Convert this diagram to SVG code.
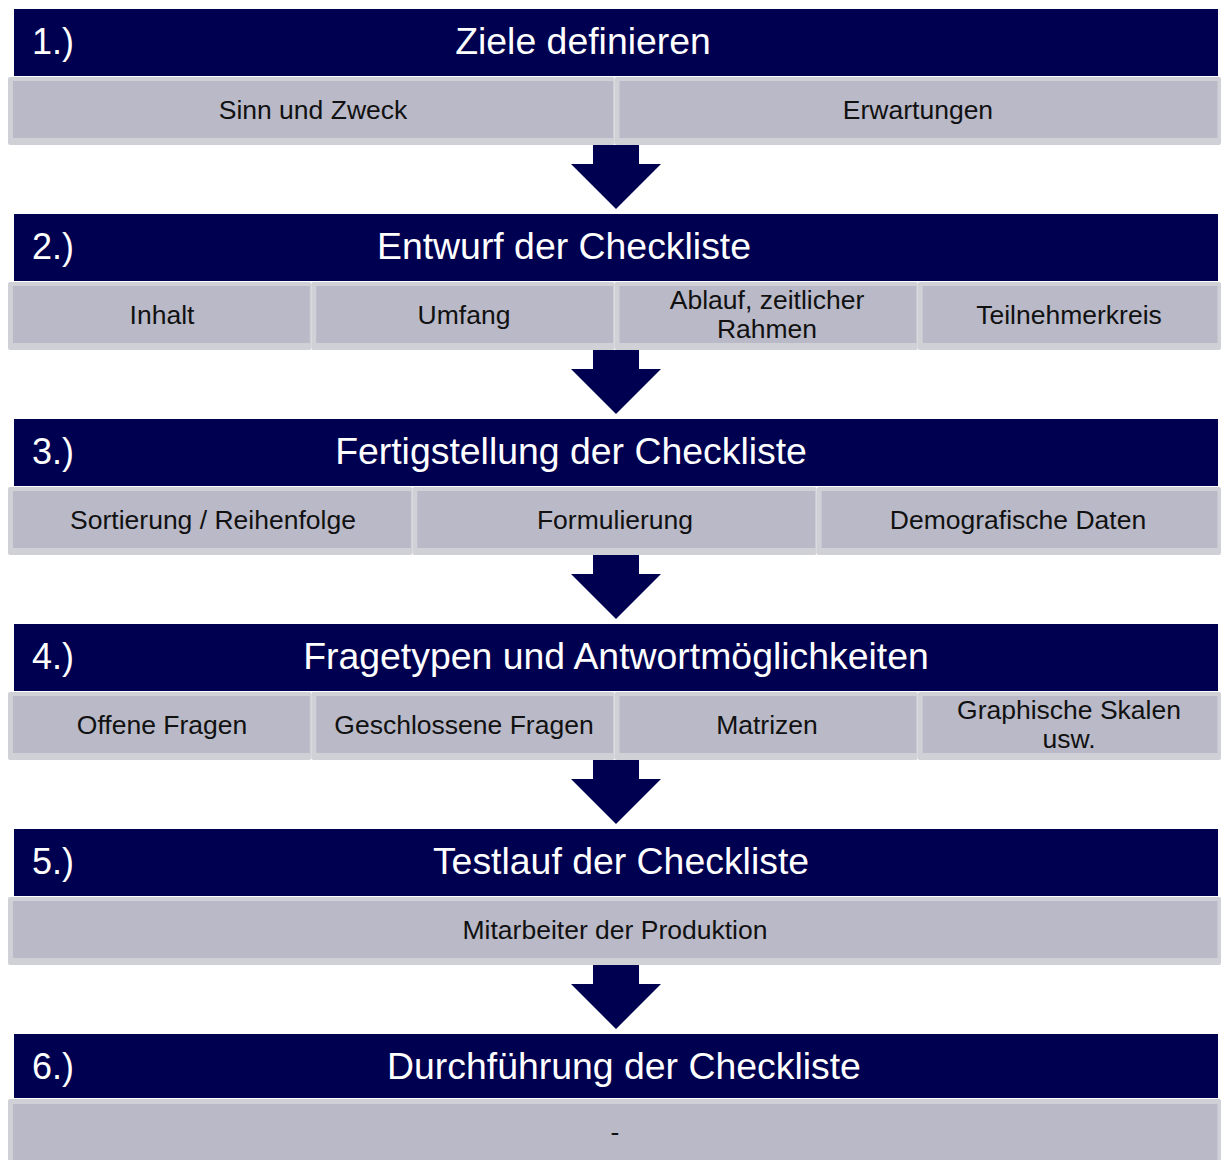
<svg xmlns="http://www.w3.org/2000/svg" width="1221" height="1160" viewBox="0 0 1221 1160">
  <style>
    .hdr { fill: #000050; }
    .num { font-family: "Liberation Sans", Arial, sans-serif; font-size: 36px; fill: #ffffff; }
    .title { font-family: "Liberation Sans", Arial, sans-serif; font-size: 37.4px; fill: #ffffff; text-anchor: middle; }
    .edge { fill: #d0d0d7; }
    .cell { fill: #b9b9c8; }
    .lbl { font-family: "Liberation Sans", Arial, sans-serif; font-size: 26.5px; fill: #111111; text-anchor: middle; }
    .arrow { fill: #000050; }
  </style>

  <!-- Step arrows between the stages -->
  <g id="connectors">
    <polygon class="arrow" points="593,145 639,145 639,164 661,164 616,209 571,164 593,164"/>
    <polygon class="arrow" points="593,350 639,350 639,369 661,369 616,414 571,369 593,369"/>
    <polygon class="arrow" points="593,555 639,555 639,574 661,574 616,619 571,574 593,574"/>
    <polygon class="arrow" points="593,760 639,760 639,779 661,779 616,824 571,779 593,779"/>
    <polygon class="arrow" points="593,965 639,965 639,984 661,984 616,1029 571,984 593,984"/>
  </g>

  <!-- Stage 1 -->
  <g id="step1">
    <rect class="hdr" x="14" y="9" width="1204" height="67"/>
    <text class="num" x="32" y="54">1.)</text>
    <text class="title" x="583" y="54">Ziele definieren</text>
  </g>
  <g id="step1-sinn">
    <rect class="edge" x="8" y="77" width="606.5" height="68" rx="2"/>
    <rect class="cell" x="13" y="81" width="600" height="57"/>
    <text class="lbl" x="313" y="119">Sinn und Zweck</text>
  </g>
  <g id="step1-erwartungen">
    <rect class="edge" x="614.5" y="77" width="606.5" height="68" rx="2"/>
    <rect class="cell" x="619.5" y="81" width="598" height="57"/>
    <text class="lbl" x="918" y="119">Erwartungen</text>
  </g>

  <!-- Stage 2 -->
  <g id="step2">
    <rect class="hdr" x="14" y="214" width="1204" height="67"/>
    <text class="num" x="32" y="259">2.)</text>
    <text class="title" x="564" y="259">Entwurf der Checkliste</text>
  </g>
  <g id="step2-inhalt">
    <rect class="edge" x="8" y="282" width="303.25" height="68" rx="2"/>
    <rect class="cell" x="13" y="286" width="296.75" height="57"/>
    <text class="lbl" x="162" y="324">Inhalt</text>
  </g>
  <g id="step2-umfang">
    <rect class="edge" x="311.25" y="282" width="303.25" height="68" rx="2"/>
    <rect class="cell" x="316.25" y="286" width="296.75" height="57"/>
    <text class="lbl" x="464" y="324">Umfang</text>
  </g>
  <g id="step2-ablauf">
    <rect class="edge" x="614.5" y="282" width="303.25" height="68" rx="2"/>
    <rect class="cell" x="619.5" y="286" width="296.75" height="57"/>
    <text class="lbl" x="767" y="309">Ablauf, zeitlicher<tspan x="767" dy="29">Rahmen</tspan></text>
  </g>
  <g id="step2-teilnehmer">
    <rect class="edge" x="917.75" y="282" width="303.25" height="68" rx="2"/>
    <rect class="cell" x="922.75" y="286" width="294.75" height="57"/>
    <text class="lbl" x="1069" y="324">Teilnehmerkreis</text>
  </g>

  <!-- Stage 3 -->
  <g id="step3">
    <rect class="hdr" x="14" y="419" width="1204" height="67"/>
    <text class="num" x="32" y="464">3.)</text>
    <text class="title" x="571" y="464">Fertigstellung der Checkliste</text>
  </g>
  <g id="step3-sortierung">
    <rect class="edge" x="8" y="487" width="404.33" height="68" rx="2"/>
    <rect class="cell" x="13" y="491" width="397.83" height="57"/>
    <text class="lbl" x="213" y="529">Sortierung / Reihenfolge</text>
  </g>
  <g id="step3-formulierung">
    <rect class="edge" x="412.33" y="487" width="404.33" height="68" rx="2"/>
    <rect class="cell" x="417.33" y="491" width="397.83" height="57"/>
    <text class="lbl" x="615" y="529">Formulierung</text>
  </g>
  <g id="step3-demografie">
    <rect class="edge" x="816.67" y="487" width="404.33" height="68" rx="2"/>
    <rect class="cell" x="821.67" y="491" width="395.83" height="57"/>
    <text class="lbl" x="1018" y="529">Demografische Daten</text>
  </g>

  <!-- Stage 4 -->
  <g id="step4">
    <rect class="hdr" x="14" y="624" width="1204" height="67"/>
    <text class="num" x="32" y="669">4.)</text>
    <text class="title" x="616" y="669">Fragetypen und Antwortmöglichkeiten</text>
  </g>
  <g id="step4-offen">
    <rect class="edge" x="8" y="692" width="303.25" height="68" rx="2"/>
    <rect class="cell" x="13" y="696" width="296.75" height="57"/>
    <text class="lbl" x="162" y="734">Offene Fragen</text>
  </g>
  <g id="step4-geschlossen">
    <rect class="edge" x="311.25" y="692" width="303.25" height="68" rx="2"/>
    <rect class="cell" x="316.25" y="696" width="296.75" height="57"/>
    <text class="lbl" x="464" y="734">Geschlossene Fragen</text>
  </g>
  <g id="step4-matrizen">
    <rect class="edge" x="614.5" y="692" width="303.25" height="68" rx="2"/>
    <rect class="cell" x="619.5" y="696" width="296.75" height="57"/>
    <text class="lbl" x="767" y="734">Matrizen</text>
  </g>
  <g id="step4-skalen">
    <rect class="edge" x="917.75" y="692" width="303.25" height="68" rx="2"/>
    <rect class="cell" x="922.75" y="696" width="294.75" height="57"/>
    <text class="lbl" x="1069" y="719">Graphische Skalen<tspan x="1069" dy="29">usw.</tspan></text>
  </g>

  <!-- Stage 5 -->
  <g id="step5">
    <rect class="hdr" x="14" y="829" width="1204" height="67"/>
    <text class="num" x="32" y="874">5.)</text>
    <text class="title" x="621" y="874">Testlauf der Checkliste</text>
  </g>
  <g id="step5-mitarbeiter">
    <rect class="edge" x="8" y="897" width="1213" height="68" rx="2"/>
    <rect class="cell" x="13" y="901" width="1204.5" height="57"/>
    <text class="lbl" x="615" y="939">Mitarbeiter der Produktion</text>
  </g>

  <!-- Stage 6 -->
  <g id="step6">
    <rect class="hdr" x="14" y="1034" width="1204" height="64"/>
    <text class="num" x="32" y="1079">6.)</text>
    <text class="title" x="624" y="1079">Durchführung der Checkliste</text>
  </g>
  <g id="step6-leer">
    <rect class="edge" x="8" y="1099" width="1213" height="70" rx="2"/>
    <rect class="cell" x="13" y="1104" width="1204.5" height="60"/>
    <text class="lbl" x="615" y="1141">-</text>
  </g>
</svg>
